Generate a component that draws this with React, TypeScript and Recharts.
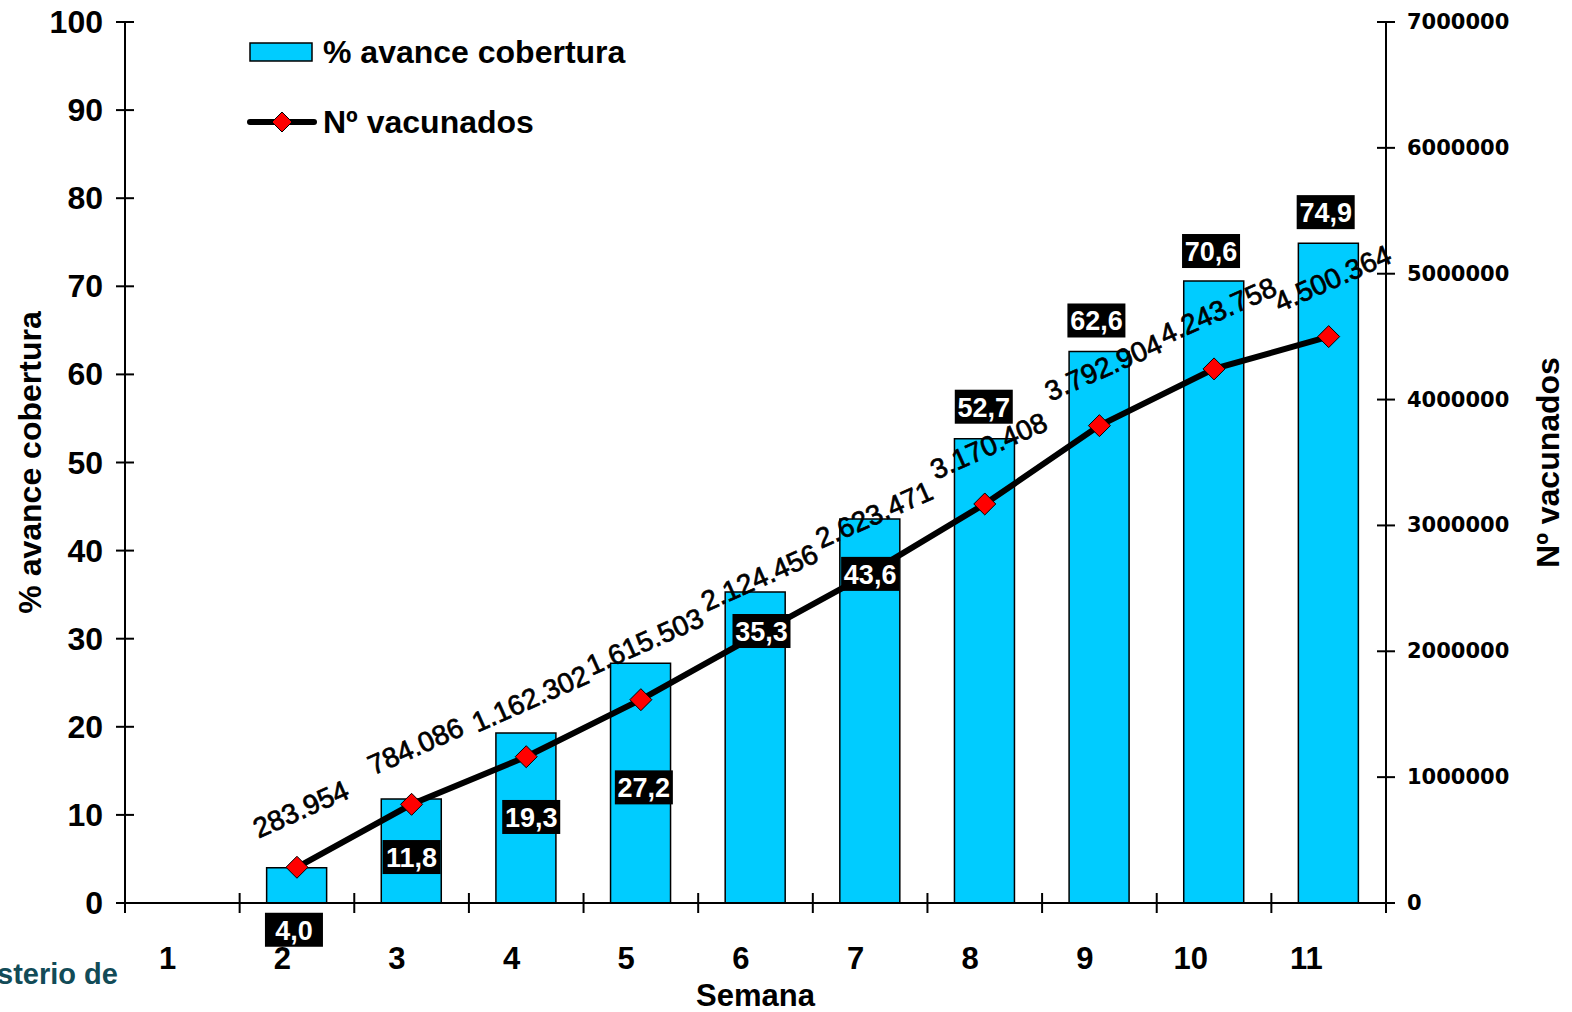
import React from "react";
import {
  ComposedChart,
  Bar,
  Line,
  XAxis,
  YAxis,
  Legend,
  LabelList,
} from "recharts";

const semanas = ["1", "2", "3", "4", "5", "6", "7", "8", "9", "10", "11"];
const cobertura = [null, 4.0, 11.8, 19.3, 27.2, 35.3, 43.6, 52.7, 62.6, 70.6, 74.9];
const vacunados = [
  null, 283954, 784086, 1162302, 1615503, 2124456, 2623471, 3170408, 3792904,
  4243758, 4500364,
];
const leftTicks = [0, 10, 20, 30, 40, 50, 60, 70, 80, 90, 100];
const rightTicks = [0, 1000000, 2000000, 3000000, 4000000, 5000000, 6000000, 7000000];

// where each black % box sits relative to the top of its bar
const boxDy = [0, 62, 58, 84, 124, 39, 55, -32, -31, -30, -31];
const boxDx = [0, -3, 0, 5, 3, 6, 0, -1, -3, -3, -3];

const data = semanas.map((s, i) => ({
  semana: s,
  cobertura: cobertura[i],
  vacunados: vacunados[i],
}));

const FONT = "'Liberation Sans', Arial, sans-serif";
const CYAN = "#00CCFF";
const W = 1572;
const H = 1012;
const M_TOP = 22;
const LEFT_W = 125;
const RIGHT_W = 186;
const X_H = 109;
const BAND = (W - LEFT_W - RIGHT_W) / semanas.length;

const fmtMiles = (v: number) => String(v).replace(/\B(?=(\d{3})+(?!\d))/g, ".");
const fmtPct = (v: number) => v.toFixed(1).replace(".", ",");

const Diamond = ({ cx, cy, r = 11 }: { cx: number; cy: number; r?: number }) => (
  <path
    d={`M${cx},${cy - r} L${cx + r},${cy} L${cx},${cy + r} L${cx - r},${cy} Z`}
    fill="#FF0000"
    stroke="#000"
    strokeWidth={1}
  />
);

const XTick = (props: any) => {
  const { x, y, payload, index } = props;
  const left = x - BAND / 2;
  return (
    <g>
      <line x1={left} x2={left} y1={y - 10} y2={y + 10} stroke="#000" strokeWidth={2} />
      {index === semanas.length - 1 && (
        <line x1={x + BAND / 2} x2={x + BAND / 2} y1={y - 10} y2={y + 10} stroke="#000" strokeWidth={2} />
      )}
      <text
        x={x - 6}
        y={y + 55}
        textAnchor="end"
        dominantBaseline="central"
        fontFamily={FONT}
        fontWeight={700}
        fontSize={31}
        fill="#000"
      >
        {payload.value}
      </text>
    </g>
  );
};

const LeftTick = (props: any) => {
  const { x, y, payload } = props;
  return (
    <g>
      <line x1={x - 9} x2={x + 9} y1={y} y2={y} stroke="#000" strokeWidth={2} />
      <text
        x={x - 22}
        y={y}
        textAnchor="end"
        dominantBaseline="central"
        fontFamily={FONT}
        fontWeight={700}
        fontSize={32}
        fill="#000"
      >
        {payload.value}
      </text>
    </g>
  );
};

const RightTick = (props: any) => {
  const { x, y, payload } = props;
  return (
    <g>
      <line x1={x - 9} x2={x + 9} y1={y} y2={y} stroke="#000" strokeWidth={2} />
      <text
        x={x + 21}
        y={y}
        textAnchor="start"
        dominantBaseline="central"
        fontFamily="'DejaVu Sans', Verdana, sans-serif"
        fontWeight={700}
        fontSize={21}
        fill="#000"
      >
        {payload.value}
      </text>
    </g>
  );
};

const VacunadosLabel = (props: any) => {
  const { x, y, value } = props;
  if (value == null || x == null || y == null) return null;
  const lx = x + 4;
  const ly = y - 58;
  return (
    <text
      x={lx}
      y={ly}
      transform={`rotate(-24, ${lx}, ${ly})`}
      textAnchor="middle"
      dominantBaseline="central"
      fontFamily={FONT}
      fontSize={28}
      fill="#000"
      stroke="#000"
      strokeWidth={0.7}
    >
      {fmtMiles(value)}
    </text>
  );
};

const PctBox = (props: any) => {
  const { x, y, value, index } = props;
  if (value == null || x == null || y == null) return null;
  const cx = x + boxDx[index];
  const cy = y + boxDy[index];
  return (
    <g>
      <rect x={cx - 29} y={cy - 17} width={58} height={34} fill="#000" />
      <text
        x={cx}
        y={cy + 1}
        textAnchor="middle"
        dominantBaseline="central"
        fontFamily={FONT}
        fontWeight={700}
        fontSize={27}
        fill="#fff"
      >
        {fmtPct(value)}
      </text>
    </g>
  );
};

const LegendBox = () => (
  <svg width={460} height={110}>
    <rect x={8} y={11} width={62} height={18} fill={CYAN} stroke="#000" strokeWidth={1.5} />
    <text x={81} y={20} dominantBaseline="central" fontFamily={FONT} fontWeight={700} fontSize={32}>
      % avance cobertura
    </text>
    <line x1={8} x2={72} y1={90} y2={90} stroke="#000" strokeWidth={6} strokeLinecap="round" />
    <Diamond cx={40} cy={90} r={10} />
    <text x={81} y={90} dominantBaseline="central" fontFamily={FONT} fontWeight={700} fontSize={32}>
      Nº vacunados
    </text>
  </svg>
);

export default function App() {
  return (
    <div style={{ position: "relative", width: W, height: H }}>
      <style>{`body { margin: 0; overflow: hidden; }`}</style>
      <ComposedChart
        width={W}
        height={H}
        data={data}
        margin={{ top: M_TOP, right: 0, bottom: 0, left: 0 }}
        barSize={60}
      >
        <XAxis
          dataKey="semana"
          interval={0}
          height={X_H}
          axisLine={{ stroke: "#000", strokeWidth: 2 }}
          tickLine={false}
          tickSize={0}
          tickMargin={0}
          tick={(p: any) => <XTick {...p} />}
          label={{
            value: "Semana",
            position: "insideBottom",
            offset: 6,
            style: { fontFamily: FONT, fontWeight: 700, fontSize: 31, fill: "#000" },
          }}
        />
        <YAxis
          yAxisId="left"
          domain={[0, 100]}
          ticks={leftTicks}
          width={LEFT_W}
          axisLine={{ stroke: "#000", strokeWidth: 2 }}
          tickLine={false}
          tickSize={0}
          tickMargin={0}
          tick={(p: any) => <LeftTick {...p} />}
          label={{
            value: "% avance cobertura",
            angle: -90,
            position: "insideLeft",
            offset: 30,
            style: { textAnchor: "middle", fontFamily: FONT, fontWeight: 700, fontSize: 32, fill: "#000" },
          }}
        />
        <YAxis
          yAxisId="right"
          orientation="right"
          domain={[0, 7000000]}
          ticks={rightTicks}
          width={RIGHT_W}
          axisLine={{ stroke: "#000", strokeWidth: 2 }}
          tickLine={false}
          tickSize={0}
          tickMargin={0}
          tick={(p: any) => <RightTick {...p} />}
          label={{
            value: "Nº vacunados",
            angle: -90,
            position: "insideRight",
            offset: 24,
            style: { textAnchor: "middle", fontFamily: FONT, fontWeight: 700, fontSize: 32, fill: "#000" },
          }}
        />
        <Legend
          layout="vertical"
          align="center"
          verticalAlign="middle"
          wrapperStyle={{ top: 32, left: 242, width: 460 }}
          content={() => <LegendBox />}
        />
        <Bar
          yAxisId="left"
          dataKey="cobertura"
          fill={CYAN}
          stroke="#000"
          strokeWidth={1.5}
          isAnimationActive={false}
        />
        <Line
          yAxisId="right"
          dataKey="vacunados"
          type="linear"
          stroke="#000"
          strokeWidth={6}
          dot={(p: any) =>
            p.cy == null || p.value == null ? (
              <g key={p.index} />
            ) : (
              <Diamond key={p.index} cx={p.cx} cy={p.cy} />
            )
          }
          activeDot={false}
          isAnimationActive={false}
        >
          <LabelList dataKey="vacunados" content={(p: any) => <VacunadosLabel {...p} />} />
        </Line>
        <Line
          yAxisId="left"
          dataKey="cobertura"
          stroke="none"
          dot={false}
          activeDot={false}
          legendType="none"
          isAnimationActive={false}
        >
          <LabelList dataKey="cobertura" content={(p: any) => <PctBox {...p} />} />
        </Line>
      </ComposedChart>
      <div
        style={{
          position: "absolute",
          left: -3,
          top: 960,
          fontFamily: FONT,
          fontWeight: 700,
          fontSize: 29,
          lineHeight: 1,
          color: "#124B57",
          whiteSpace: "nowrap",
        }}
      >
        sterio de
      </div>
    </div>
  );
}
